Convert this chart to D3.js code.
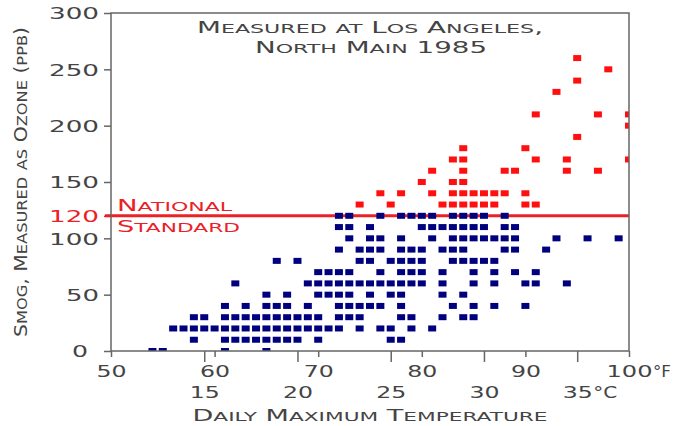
<!DOCTYPE html>
<html>
<head>
<meta charset="utf-8">
<script src="https://cdn.jsdelivr.net/npm/d3@7"></script>
<style>
  body { margin: 0; background: #fff; }
  svg text { font-family: "DejaVu Sans", sans-serif; fill: #444; }
</style>
</head>
<body>
<div id="chart"></div>
<script>
// ozone level (ppb) rows and the daily max temperatures (°F) seen at each level
const ozoneLevels = [0, 10, 20, 30, 40, 50, 60, 70, 80, 90, 100, 110, 120,
  130, 140, 150, 160, 170, 180, 190, 200, 210, 220, 230, 240, 250, 260];
const tempsAtLevel = [
  [54, 55, 61, 65],
  [58, 61, 62, 63, 64, 65, 66, 67, 68, 70, 77, 78],
  [56, 57, 58, 59, 60, 61, 62, 63, 64, 65, 66, 67, 68, 69, 70, 71, 72, 74, 76, 77, 79, 81],
  [58, 59, 61, 62, 63, 64, 65, 66, 67, 68, 69, 70, 72, 73, 74, 78, 79, 82, 84, 85],
  [61, 63, 65, 66, 67, 69, 72, 73, 74, 75, 76, 78, 83, 85, 87, 90],
  [65, 67, 70, 71, 72, 73, 75, 77, 78, 82, 84],
  [62, 69, 70, 71, 72, 73, 74, 75, 76, 77, 78, 79, 80, 82, 85, 87, 90, 91, 94],
  [70, 71, 72, 73, 76, 78, 79, 80, 82, 85, 87, 89, 91],
  [66, 68, 74, 75, 77, 78, 79, 80, 83, 84, 85, 86, 87],
  [72, 74, 75, 76, 78, 79, 80, 82, 83, 84, 88, 89, 92],
  [73, 75, 76, 78, 81, 83, 84, 85, 86, 87, 88, 89, 93, 96, 99],
  [72, 73, 75, 80, 81, 82, 83, 84, 85, 86, 88, 89],
  [72, 73, 76, 78, 79, 80, 81, 83, 84, 85, 86, 88],
  [74, 77, 82, 83, 84, 85, 86, 87, 90, 91],
  [76, 78, 81, 83, 84, 85, 86, 87, 88, 90],
  [80, 83, 84],
  [81, 84, 88, 89, 94, 97],
  [83, 84, 91, 94, 100],
  [84, 90],
  [95],
  [100],
  [91, 97, 100],
  [],
  [93],
  [95],
  [98],
  [95]
];
const standardPpb = 120;
const yTicks = [0, 50, 100, 120, 150, 200, 250, 300];
const fTicks = [50, 60, 70, 80, 90, 100];
const cTicks = [15, 20, 25, 30, 35];

const width = 674;
const height = 426;
const plotLeft = 111, plotRight = 629, plotTop = 13, plotBottom = 351;
const red = '#ec2027';
const navy = '#00007f';

const svg = d3.select('#chart')
  .append('svg')
  .attr('width', width)
  .attr('height', height);

const x = d3.scaleLinear().domain([50, 100]).range([plotLeft, plotRight]);
const y = d3.scaleLinear().domain([0, 300]).range([plotBottom, plotTop]);
const cToF = c => c * 9 / 5 + 32;

// fake small caps: lowercase letters drawn as smaller capitals
function smallCaps(text, str, big, small) {
  const runs = [];
  for (const ch of str) {
    const size = ch !== ch.toUpperCase() ? small : big;
    const last = runs[runs.length - 1];
    if (last && last.size === size) last.t += ch.toUpperCase();
    else runs.push({ t: ch.toUpperCase(), size });
  }
  text.selectAll('tspan').data(runs).join('tspan')
    .attr('font-size', d => d.size)
    .text(d => d.t);
  return text;
}

function fit(text, w) {
  return text.attr('textLength', w).attr('lengthAdjust', 'spacingAndGlyphs');
}

svg.append('clipPath').attr('id', 'plot')
  .append('rect')
  .attr('x', plotLeft).attr('y', plotTop)
  .attr('width', plotRight - plotLeft).attr('height', plotBottom - plotTop);

// national standard line
svg.append('line')
  .attr('x1', plotLeft - 6).attr('x2', plotRight)
  .attr('y1', y(standardPpb)).attr('y2', y(standardPpb))
  .attr('stroke', red)
  .attr('stroke-width', 3);

const points = ozoneLevels.flatMap((v, i) => tempsAtLevel[i].map(t => ({ t, v })));

svg.append('g')
  .attr('clip-path', 'url(#plot)')
  .selectAll('rect')
  .data(points)
  .join('rect')
  .attr('x', d => x(d.t) - 4)
  .attr('y', d => y(d.v) - 3)
  .attr('width', 8)
  .attr('height', 6)
  .attr('fill', d => d.v > standardPpb ? '#ff1010' : navy);

// frame
svg.append('rect')
  .attr('x', plotLeft).attr('y', plotTop)
  .attr('width', plotRight - plotLeft).attr('height', plotBottom - plotTop)
  .attr('fill', 'none')
  .attr('stroke', '#666')
  .attr('stroke-width', 1.5);

// y axis
const yAxis = svg.append('g')
  .attr('transform', `translate(${plotLeft}, 0)`)
  .call(d3.axisLeft(y).tickValues(yTicks).tickSize(7).tickPadding(5).tickFormat(d => d));
yAxis.select('.domain').remove();
yAxis.selectAll('.tick line').attr('stroke', d => d === standardPpb ? red : '#666').attr('stroke-width', 1.5);
yAxis.selectAll('.tick text')
  .attr('font-size', 16.5)
  .attr('dy', '0.36em')
  .attr('dx', d => d === 0 ? -11 : 0)
  .style('fill', d => d === standardPpb ? red : '#444')
  .each(function(d) { fit(d3.select(this), String(d).length * 17 - 1); });

// fahrenheit axis
const fAxis = svg.append('g')
  .attr('transform', `translate(0, ${plotBottom})`)
  .call(d3.axisBottom(x).tickValues(fTicks).tickSize(6).tickFormat(d => d));
fAxis.select('.domain').remove();
fAxis.selectAll('.tick line').attr('stroke', '#666').attr('stroke-width', 1.5);
fAxis.selectAll('.tick text')
  .attr('font-size', 16)
  .attr('y', 26).attr('dy', null)
  .each(function(d) { fit(d3.select(this), String(d).length * 16 - 2); });

// celsius axis
const cAxis = svg.append('g')
  .attr('transform', `translate(0, ${plotBottom})`)
  .call(d3.axisBottom(x).tickValues(cTicks.map(cToF)).tickSize(11)
    .tickFormat(f => Math.round((f - 32) * 5 / 9)));
cAxis.select('.domain').remove();
cAxis.selectAll('.tick line').attr('stroke', '#666').attr('stroke-width', 1.5);
cAxis.selectAll('.tick text')
  .attr('font-size', 16)
  .attr('y', 47).attr('dy', null)
  .each(function(d) { fit(d3.select(this), 30); });

// unit suffixes after the last labels
svg.append('text')
  .attr('x', x(100) + 24).attr('y', plotBottom + 26)
  .attr('font-size', 16)
  .call(fit, 18)
  .text('°F');
svg.append('text')
  .attr('x', x(cToF(35)) + 16).attr('y', plotBottom + 47)
  .attr('font-size', 16)
  .call(fit, 24)
  .text('°C');

// titles
fit(smallCaps(svg.append('text').attr('x', 370).attr('y', 33).attr('text-anchor', 'middle'),
  'Measured at Los Angeles,', 16, 12.8), 346);
fit(smallCaps(svg.append('text').attr('x', 371).attr('y', 53).attr('text-anchor', 'middle'),
  'North Main 1985', 16, 12.8), 232);

fit(smallCaps(svg.append('text').attr('x', 370).attr('y', 421).attr('text-anchor', 'middle'),
  'Daily Maximum Temperature', 15.5, 12.4), 355);

fit(smallCaps(svg.append('text')
  .attr('transform', 'translate(27, 182) rotate(-90)')
  .attr('text-anchor', 'middle'),
  'Smog, Measured as Ozone (ppb)', 17, 13.5), 310);

fit(smallCaps(svg.append('text').attr('x', 117).attr('y', 210.5).style('fill', red),
  'National', 15.5, 12.4), 115);
fit(smallCaps(svg.append('text').attr('x', 117).attr('y', 232).style('fill', red),
  'Standard', 15.5, 12.4), 123);
</script>
</body>
</html>
